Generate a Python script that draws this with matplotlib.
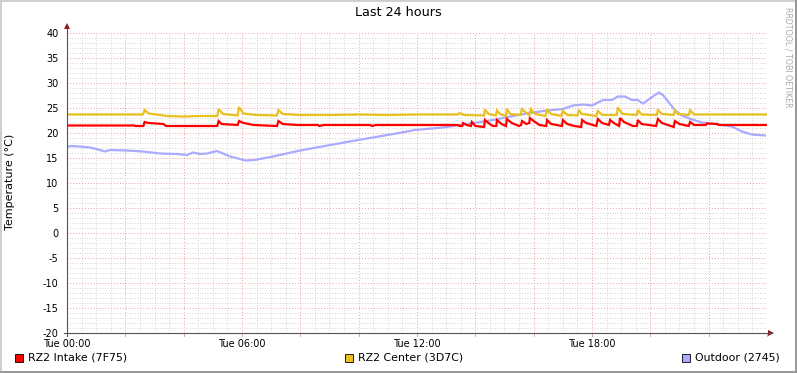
import matplotlib
matplotlib.use("Agg")
import matplotlib.pyplot as plt
from matplotlib.patches import Rectangle, Polygon
import numpy as np

# ---------------- data (hours since Tue 00:00, °C) ----------------
intake_t = [0.00, 2.30, 2.35, 2.62, 2.66, 2.80, 3.30, 3.40, 5.15, 5.20, 5.30, 5.85, 5.90, 6.05, 6.40,
            7.20, 7.25, 7.40, 7.90, 8.60, 8.65, 8.80, 10.40, 10.45, 10.60, 12.00, 13.40, 13.45, 13.55,
            13.58, 13.70, 13.85, 13.88, 14.00, 14.30, 14.33, 14.45, 14.60, 14.72, 14.74, 14.90, 15.05,
            15.08, 15.25, 15.50, 15.57, 15.60, 15.75, 15.85, 15.87, 16.00, 16.20, 16.43, 16.46, 16.60,
            16.97, 17.00, 17.15, 17.40, 17.63, 17.66, 17.80, 18.15, 18.20, 18.35, 18.58, 18.62, 18.75,
            18.93, 18.96, 19.10, 19.40, 19.54, 19.57, 19.70, 20.20, 20.26, 20.40, 20.80, 20.84, 21.00,
            21.32, 21.36, 21.50, 21.90, 21.94, 22.30, 22.35, 24.00]
intake_v = [21.5, 21.5, 21.4, 21.4, 22.2, 22.0, 21.8, 21.4, 21.4, 22.4, 21.8, 21.6, 22.4, 22.0, 21.6,
            21.4, 22.4, 21.8, 21.6, 21.6, 21.4, 21.6, 21.6, 21.4, 21.6, 21.6, 21.6, 21.4, 21.4,
            22.0, 21.6, 21.4, 22.2, 21.4, 21.2, 22.6, 22.0, 21.4, 21.4, 22.6, 21.8, 21.4,
            22.8, 22.0, 21.4, 21.6, 22.4, 21.8, 22.0, 23.0, 22.4, 21.6, 21.4, 22.6, 21.8,
            21.4, 22.6, 21.8, 21.4, 21.2, 22.6, 22.0, 21.4, 22.8, 22.0, 21.6, 22.6, 22.0,
            21.4, 23.0, 22.2, 21.4, 21.4, 22.6, 21.8, 21.4, 22.8, 22.0, 21.2, 22.4, 21.8,
            21.4, 22.2, 21.6, 21.6, 21.9, 21.8, 21.6, 21.6]

center_t = [0.00, 2.60, 2.66, 2.80, 3.20, 3.40, 4.00, 4.60, 5.15, 5.20, 5.35, 5.85, 5.90, 6.05, 6.50,
            7.20, 7.25, 7.40, 8.00, 9.00, 10.00, 11.00, 12.00, 13.40, 13.47, 13.60, 14.30, 14.33,
            14.45, 14.70, 14.74, 14.85, 15.05, 15.08, 15.20, 15.55, 15.60, 15.75, 15.85, 15.90, 16.05,
            16.40, 16.46, 16.60, 16.95, 17.00, 17.15, 17.50, 17.55, 17.65, 18.15, 18.20, 18.35, 18.85,
            18.89, 19.05, 19.54, 19.57, 19.70, 20.22, 20.26, 20.40, 20.80, 20.84, 20.95, 21.32, 21.36,
            21.50, 24.00]
center_v = [23.7, 23.7, 24.6, 23.9, 23.6, 23.4, 23.3, 23.4, 23.4, 24.8, 23.8, 23.5, 25.2, 23.9, 23.6,
            23.5, 24.6, 23.8, 23.6, 23.6, 23.7, 23.6, 23.7, 23.7, 24.0, 23.6, 23.5, 24.7,
            23.8, 23.5, 24.5, 23.8, 23.4, 24.8, 23.8, 23.6, 24.8, 24.0, 23.6, 24.8, 23.8,
            23.4, 24.6, 23.8, 23.4, 24.4, 23.6, 23.5, 24.6, 23.8, 23.4, 24.4, 23.6, 23.6,
            25.1, 23.8, 23.6, 24.6, 23.7, 23.6, 24.6, 23.8, 23.6, 24.5, 23.8, 23.6, 24.6,
            23.7, 23.7]

outdoor_t = [0.00, 0.10, 0.45, 0.79, 1.13, 1.30, 1.47, 2.06, 2.61, 3.19, 3.77, 4.11, 4.32, 4.56, 4.80,
             5.14, 5.35, 5.59, 5.93, 6.10, 6.44, 7.06, 7.99, 9.12, 10.28, 11.18, 11.93, 12.89, 13.47,
             14.06, 14.60, 15.19, 15.77, 16.32, 17.00, 17.35, 17.69, 18.00, 18.38, 18.68, 18.89, 19.13,
             19.37, 19.57, 19.75, 19.92, 20.16, 20.30, 20.43, 20.61, 20.84, 21.08, 21.43, 21.77, 22.32,
             22.80, 23.14, 23.48, 23.93]
outdoor_v = [17.1, 17.4, 17.3, 17.1, 16.6, 16.3, 16.6, 16.5, 16.3, 15.9, 15.8, 15.6, 16.1, 15.8, 15.9,
             16.4, 15.9, 15.3, 14.8, 14.5, 14.6, 15.3, 16.5, 17.7, 18.9, 19.8, 20.6, 21.1, 21.6,
             22.1, 22.6, 23.3, 23.9, 24.4, 24.8, 25.5, 25.7, 25.5, 26.6, 26.6, 27.3, 27.3,
             26.6, 26.6, 25.9, 26.6, 27.6, 28.1, 27.6, 26.3, 24.6, 23.5, 22.7, 22.1, 21.7,
             21.3, 20.3, 19.7, 19.5]

series_names = ["RZ2 Intake (7F75)", "RZ2 Center (3D7C)", "Outdoor (2745)"]
series_colors = ["#FF0000", "#EAC01E", "#AAAAFF"]
x_tick_hours = [0, 6, 12, 18]
x_tick_labels = ["Tue 00:00", "Tue 06:00", "Tue 12:00", "Tue 18:00"]
y_ticks = list(range(-20, 45, 5))

# ---------------- figure ----------------
W, H = 797, 373
fig = plt.figure(figsize=(W / 100, H / 100), dpi=100)
fig.patch.set_facecolor("white")

def fx(px):
    return px / W

def fy(py):
    return 1 - py / H

# bevelled frame
fig.add_artist(Rectangle((0, fy(2)), 1, 2 / H, transform=fig.transFigure, color="#CFCFCF", lw=0))
fig.add_artist(Rectangle((0, 0), 2 / W, 1, transform=fig.transFigure, color="#CFCFCF", lw=0))
fig.add_artist(Rectangle((0, 0), 1, 2 / H, transform=fig.transFigure, color="#999999", lw=0))
fig.add_artist(Rectangle((1 - 2 / W, 0), 2 / W, 1, transform=fig.transFigure, color="#999999", lw=0))

L, R, T, B = 67, 767, 33, 333
ax = fig.add_axes([fx(L), fy(B), (R - L) / W, (B - T) / H])
ax.set_xlim(0, 24)
ax.set_ylim(-20, 40)
ax.set_facecolor("white")
for s in ax.spines.values():
    s.set_visible(False)

# grid
for h in np.arange(0.5, 24.01, 0.5):
    if abs(h / 2 - round(h / 2)) < 1e-6:
        continue
    ax.axvline(h, color="#C8C8C8", lw=0.6, ls=(0, (1, 2)), zorder=1)
for v in range(-19, 41):
    if v % 5 == 0:
        continue
    ax.axhline(v, color="#C8C8C8", lw=0.6, ls=(0, (1, 2)), zorder=1)
for h in range(2, 25, 2):
    ax.axvline(h, color="#E8A0A0", lw=0.7, ls=(0, (1, 2)), zorder=1.5)
for v in range(-15, 41, 5):
    ax.axhline(v, color="#E8A0A0", lw=0.7, ls=(0, (1, 2)), zorder=1.5)

# series
lw = 1.6
ax.plot(outdoor_t, outdoor_v, color=series_colors[2], lw=lw, zorder=3, solid_joinstyle="miter")
ax.plot(center_t, center_v, color=series_colors[1], lw=lw, zorder=4, solid_joinstyle="miter")
ax.plot(intake_t, intake_v, color=series_colors[0], lw=lw, zorder=5, solid_joinstyle="miter")

# axes lines and arrows
axis_col = "#555555"
fig.add_artist(plt.Line2D([fx(L), fx(L)], [fy(B + 3), fy(T - 5)], transform=fig.transFigure, color=axis_col, lw=0.8))
fig.add_artist(plt.Line2D([fx(L - 3), fx(R + 5)], [fy(B), fy(B)], transform=fig.transFigure, color=axis_col, lw=0.8))
fig.add_artist(Polygon([[fx(L - 3), fy(T - 4)], [fx(L + 3), fy(T - 4)], [fx(L), fy(T - 10)]],
                       closed=True, transform=fig.transFigure, color="#8B1A1A", lw=0))
fig.add_artist(Polygon([[fx(R + 1), fy(B - 3)], [fx(R + 1), fy(B + 3)], [fx(R + 7), fy(B)]],
                       closed=True, transform=fig.transFigure, color="#8B1A1A", lw=0))

# ticks
ax.set_xticks(x_tick_hours)
ax.set_xticklabels(x_tick_labels)
ax.set_yticks(y_ticks)
ax.set_yticklabels([str(v) for v in y_ticks])
ax.tick_params(axis="both", length=0, labelsize=7, colors="black")
ax.tick_params(axis="y", pad=6)
ax.tick_params(axis="x", pad=4)
# small major tick marks below x-axis
for h in range(0, 25, 2):
    ax.plot([h, h], [-20, -20.6], color="#E8A0A0", lw=0.7, clip_on=False, zorder=2)

fig.text(fx(10), fy(182), "Temperature (°C)", rotation=90, ha="center", va="center", fontsize=8)

fig.text(fx(398), fy(13), "Last 24 hours", ha="center", va="center", fontsize=9.2)
fig.text(fx(788), fy(57), "RRDTOOL / TOBI OETIKER", rotation=-90, ha="center", va="center",
         fontsize=5.7, color="#AAAAAA")

# legend
leg_x = [15, 345, 682]
for x0, name, col in zip(leg_x, series_names, series_colors):
    fig.add_artist(Rectangle((fx(x0), fy(362)), 8 / W, 8 / H, transform=fig.transFigure,
                             facecolor=col, edgecolor="black", lw=0.6))
    fig.text(fx(x0 + 13), fy(358), name, ha="left", va="center", fontsize=7.9)

fig.savefig("out.png", dpi=100, facecolor=fig.get_facecolor())
